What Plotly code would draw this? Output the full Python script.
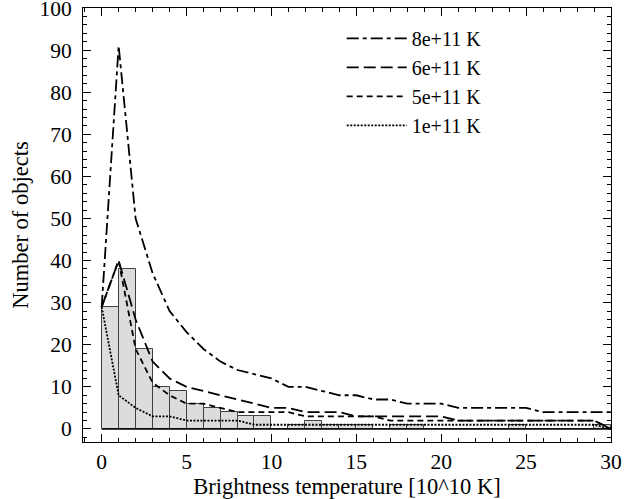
import plotly.graph_objects as go

# Histogram: bins of width 1 from 0 to 30 (left edges) and counts
bin_left = list(range(0, 30))
counts = [29, 38, 19, 10, 9, 6, 5, 4, 3, 3,
          0, 1, 2, 1, 1, 1, 0, 1, 1, 0,
          0, 0, 0, 0, 1, 0, 0, 0, 0, 1]

# Model curves evaluated at integer brightness temperatures
temps = list(range(0, 31))
model_8e11 = [29, 91, 50, 37, 28, 23, 19, 16, 14, 13,
              12, 10, 10, 9, 8, 8, 7, 7, 6, 6,
              6, 5, 5, 5, 5, 5, 4, 4, 4, 4, 4]
model_6e11 = [29, 40, 26, 16, 12, 10, 9, 8, 7, 6,
              5, 5, 4, 4, 4, 3, 3, 3, 3, 3,
              3, 2, 2, 2, 2, 2, 2, 2, 2, 2, 0]
model_5e11 = [29, 40, 19, 11, 8, 6, 6, 5, 4, 4,
              4, 4, 3, 3, 3, 3, 3, 2, 2, 2,
              2, 2, 2, 2, 2, 2, 2, 2, 2, 2, 0]
model_1e11 = [29, 8, 5, 3, 3, 2, 2, 2, 2, 1,
              1, 1, 1, 1, 1, 1, 1, 1, 1, 1,
              1, 1, 1, 1, 1, 1, 1, 1, 1, 1, 0]

series_names = ["8e+11 K", "6e+11 K", "5e+11 K", "1e+11 K"]
series_values = [model_8e11, model_6e11, model_5e11, model_1e11]
series_dash = ["12px,4px,4px,4px", "12px,5px", "6px,4px", "2px,1.5px"]

FONT = "Liberation Serif, Times New Roman, serif"

fig = go.Figure()

bin_width = 1
fig.add_trace(go.Bar(
    x=[b + bin_width / 2 for b in bin_left], y=counts, width=bin_width,
    marker=dict(color="#dcdcdc", line=dict(color="#404040", width=1)),
    showlegend=False, hoverinfo="skip"))

# histogram baseline (drawn under empty bins)
fig.add_trace(go.Scatter(
    x=[bin_left[0], bin_left[-1] + bin_width], y=[0, 0], mode="lines",
    line=dict(color="black", width=1.5), showlegend=False, hoverinfo="skip"))

for name, vals, dash in zip(series_names, series_values, series_dash):
    fig.add_trace(go.Scatter(
        x=temps, y=vals, mode="lines", name=name,
        line=dict(color="black", width=1.8, dash=dash)))

axis_common = dict(
    showline=True, linecolor="black", linewidth=1, mirror="ticks",
    ticks="inside", ticklen=8, tickwidth=1, tickcolor="black",
    showgrid=False, zeroline=False, ticklabeloverflow="allow",
    automargin=False,
    tickfont=dict(family=FONT, size=21.5, color="black"),
)

fig.update_layout(
    width=630, height=499,
    margin=dict(l=83, r=19, t=8, b=57),
    plot_bgcolor="white", paper_bgcolor="white",
    barmode="overlay", bargap=0,
    font=dict(family=FONT, color="black"),
    xaxis=dict(range=[-1.1, 30], tick0=0, dtick=5,
               minor=dict(dtick=1, ticks="inside", ticklen=4, tickcolor="black"),
               title=dict(text="Brightness temperature [10^10 K]",
                          font=dict(family=FONT, size=22.5), standoff=6),
               ticklabelstandoff=0,
               **axis_common),
    yaxis=dict(range=[-3.1, 100], tick0=0, dtick=10,
               minor=dict(dtick=2, ticks="inside", ticklen=4, tickcolor="black"),
               title=dict(text="Number of objects",
                          font=dict(family=FONT, size=22.5), standoff=4),
               ticklabelstandoff=6,
               **axis_common),
    legend=dict(x=0.49, y=0.975, xanchor="left", yanchor="top",
                bgcolor="rgba(0,0,0,0)", borderwidth=0,
                font=dict(family=FONT, size=20, color="black"),
                itemwidth=60, traceorder="normal"),
    showlegend=True,
)

fig.write_html("out.html")
